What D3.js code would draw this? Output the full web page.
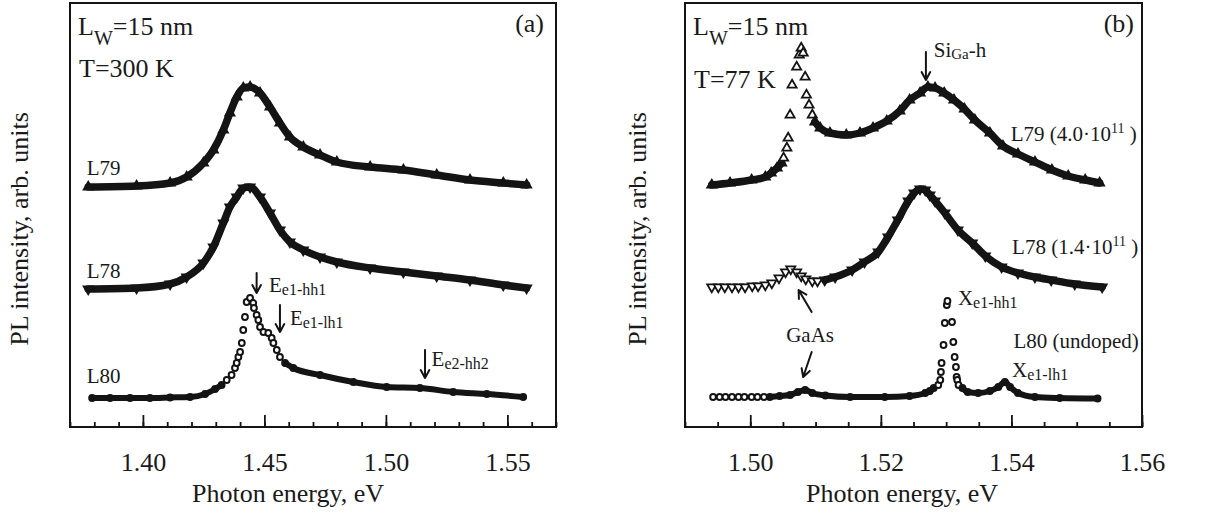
<!DOCTYPE html>
<html>
<head>
<meta charset="utf-8">
<script src="https://d3js.org/d3.v7.min.js"></script>
<style>
  body { margin: 0; background: #fff; }
  svg text { font-family: "Liberation Serif", "Times New Roman", serif; fill: #1a1a1a; }
</style>
</head>
<body>
<svg id="chart" width="1216" height="517"></svg>
<script>
// ---- data (energy in eV, PL intensity in arb. units incl. vertical offset) ----

// panel (a), T = 300 K
const energyA_L79 = [1.3775,1.3974,1.4112,1.4180,1.4249,1.4290,1.4331,1.4358,1.4386,1.4413,1.4441,1.4482,1.4523,1.4564,1.4605,1.4660,1.4729,1.4798,1.4935,1.5072,1.5209,1.5346,1.5483,1.5579];
const plA_L79     = [2.40,2.41,2.44,2.50,2.64,2.77,2.97,3.14,3.30,3.39,3.40,3.34,3.20,3.04,2.90,2.80,2.72,2.65,2.60,2.57,2.52,2.47,2.44,2.42];
const energyA_L78 = energyA_L79;
const plA_L78     = [1.38,1.39,1.43,1.50,1.64,1.80,2.04,2.20,2.30,2.39,2.40,2.30,2.14,1.97,1.85,1.77,1.70,1.65,1.59,1.55,1.51,1.47,1.42,1.39];
const energyA_L80 = [1.3791,1.3865,1.3947,1.4029,1.4112,1.4194,1.4256,1.4297,1.4324,1.4345,1.4365,1.4379,1.4386,1.4393,1.4400,1.4407,1.4413,1.4420,1.4427,1.4441,1.4454,1.4457,1.4468,1.4475,1.4482,1.4496,1.4516,1.4530,1.4537,1.4551,1.4564,1.4585,1.4619,1.4729,1.4866,1.5003,1.5140,1.5277,1.5415,1.5565];
const plA_L80     = [0.29,0.29,0.29,0.29,0.295,0.30,0.33,0.38,0.42,0.47,0.52,0.59,0.64,0.70,0.75,0.84,0.97,1.10,1.25,1.29,1.24,1.19,1.12,1.07,1.00,0.95,0.94,0.89,0.84,0.77,0.70,0.64,0.59,0.52,0.45,0.40,0.39,0.35,0.33,0.30];

// panel (b), T = 77 K
const energyB_L79 = [1.4941,1.4969,1.5002,1.5023,1.5032,1.5041,1.5048,1.5051,1.5056,1.5058,1.5061,1.5064,1.5071,1.5075,1.5078,1.5081,1.5084,1.5086,1.5090,1.5095,1.5099,1.5107,1.5122,1.5147,1.5168,1.5188,1.5209,1.5229,1.5244,1.5260,1.5272,1.5283,1.5297,1.5312,1.5328,1.5344,1.5367,1.5387,1.5410,1.5436,1.5462,1.5487,1.5513,1.5535];
const plB_L79     = [2.42,2.44,2.47,2.50,2.54,2.59,2.64,2.69,2.79,2.89,3.12,3.42,3.60,3.72,3.79,3.74,3.50,3.32,3.22,3.12,3.05,2.99,2.94,2.92,2.94,2.99,3.06,3.16,3.27,3.34,3.40,3.39,3.34,3.27,3.18,3.07,2.94,2.81,2.73,2.65,2.57,2.51,2.47,2.44];
const energyB_L78 = [1.4941,1.4951,1.4961,1.4972,1.4982,1.4992,1.5003,1.5012,1.5023,1.5033,1.5044,1.5054,1.5062,1.5071,1.5078,1.5085,1.5095,1.5103,1.5114,1.5130,1.5156,1.5175,1.5196,1.5211,1.5226,1.5242,1.5251,1.5260,1.5268,1.5275,1.5283,1.5298,1.5318,1.5340,1.5360,1.5385,1.5410,1.5436,1.5461,1.5497,1.5539];
const plB_L78     = [1.40,1.40,1.40,1.40,1.40,1.40,1.41,1.41,1.42,1.44,1.49,1.55,1.58,1.55,1.51,1.48,1.46,1.46,1.47,1.50,1.57,1.65,1.75,1.90,2.07,2.26,2.34,2.38,2.37,2.32,2.26,2.14,1.97,1.84,1.71,1.60,1.54,1.50,1.47,1.43,1.40];
const energyB_L80 = [1.4943,1.4953,1.4962,1.4972,1.4982,1.4991,1.5002,1.5011,1.5021,1.5030,1.5045,1.5061,1.5073,1.5084,1.5095,1.5115,1.5153,1.5206,1.5244,1.5268,1.5275,1.5281,1.5288,1.5291,1.5292,1.5293,1.5296,1.5298,1.5301,1.5302,1.5309,1.5311,1.5313,1.5315,1.5316,1.5317,1.5319,1.5325,1.5333,1.5349,1.5367,1.5380,1.5390,1.5398,1.5410,1.5436,1.5474,1.5532];
const plB_L80     = [0.30,0.30,0.30,0.30,0.30,0.30,0.30,0.30,0.30,0.30,0.31,0.32,0.35,0.37,0.34,0.315,0.30,0.30,0.31,0.34,0.36,0.39,0.42,0.47,0.55,0.64,0.82,1.04,1.22,1.26,1.05,0.85,0.70,0.60,0.50,0.47,0.42,0.39,0.35,0.34,0.36,0.40,0.45,0.40,0.34,0.30,0.29,0.285];

// tick labels
const ticksA = [1.40, 1.45, 1.50, 1.55];
const ticksB = [1.50, 1.52, 1.54, 1.56];

// ---- layout ----
const plotTop = 3, plotBottom = 427;
const INK = '#141414';
const BIG = 26, LABEL = 21;
const svg = d3.select('#chart');
const y = d3.scaleLinear().domain([0, 4.24]).range([plotBottom, plotTop]);

const panels = [
  {
    left: 70, right: 556, domain: [1.37, 1.57], ticks: ticksA, minorStep: 0.01,
    tag: '(a)', tagGap: 12, temp: 'T=300 K', tempY: 77, xLabelX: 288, yLabelX: 28,
    series: [
      { E: energyA_L79, I: plA_L79, marker: 'up',     bands: [[1.37, 1.57]] },
      { E: energyA_L78, I: plA_L78, marker: 'down',   bands: [[1.37, 1.57]] },
      { E: energyA_L80, I: plA_L80, marker: 'circle', bands: [[1.37, 1.4324], [1.4585, 1.57]] }
    ],
    labels: [
      { e: 1.3769, v: 2.52, parts: [{ t: 'L79' }] },
      { e: 1.3769, v: 1.49, parts: [{ t: 'L78' }] },
      { e: 1.3769, v: 0.44, parts: [{ t: 'L80' }] },
      { e: 1.4519, v: 1.35, parts: [{ t: 'E' }, { t: 'e1-hh1', sub: true }] },
      { e: 1.4605, v: 1.02, parts: [{ t: 'E' }, { t: 'e1-lh1', sub: true }] },
      { e: 1.5188, v: 0.61, parts: [{ t: 'E' }, { t: 'e2-hh2', sub: true }] }
    ],
    arrows: [
      { e0: 1.4468, v0: 1.54, e1: 1.4468, v1: 1.34 },
      { e0: 1.4564, v0: 1.22, e1: 1.4564, v1: 0.95 },
      { e0: 1.5161, v0: 0.77, e1: 1.5161, v1: 0.49 }
    ]
  },
  {
    left: 685, right: 1142, domain: [1.49, 1.56], ticks: ticksB, minorStep: 0.005,
    tag: '(b)', tagGap: 8, temp: 'T=77 K', tempY: 88, xLabelX: 902, yLabelX: 646,
    series: [
      { E: energyB_L79, I: plB_L79, marker: 'up',     bands: [[1.49, 1.5048], [1.5099, 1.56]] },
      { E: energyB_L78, I: plB_L78, marker: 'down',   bands: [[1.5114, 1.56]] },
      { E: energyB_L80, I: plB_L80, marker: 'circle', bands: [[1.5030, 1.5281], [1.5325, 1.56]] }
    ],
    labels: [
      { e: 1.5281, v: 3.70, parts: [{ t: 'Si' }, { t: 'Ga', sub: true, size: 15, dy: 2 }, { t: '-h' }] },
      { e: 1.5399, v: 2.86, parts: [{ t: 'L79  (4.0·10' }, { t: '11', sup: true }, { t: ' )' }] },
      { e: 1.5401, v: 1.73, parts: [{ t: 'L78  (1.4·10' }, { t: '11', sup: true }, { t: ' )' }] },
      { e: 1.5318, v: 1.22, parts: [{ t: 'X' }, { t: 'e1-hh1', sub: true }] },
      { e: 1.5055, v: 0.85, parts: [{ t: 'GaAs' }] },
      { e: 1.5403, v: 0.79, parts: [{ t: 'L80 (undoped)' }] },
      { e: 1.5401, v: 0.50, parts: [{ t: 'X' }, { t: 'e1-lh1', sub: true }] }
    ],
    arrows: [
      { e0: 1.5269, v0: 3.75, e1: 1.5269, v1: 3.47 },
      { e0: 1.5094, v0: 1.15, e1: 1.5074, v1: 1.37 },
      { e0: 1.5094, v0: 0.75, e1: 1.5081, v1: 0.50 }
    ]
  }
];

// rich text helper: base text with sub/superscript tspans
function richText(g, x0, y0, parts, size) {
  const t = g.append('text').attr('x', x0).attr('y', y0).attr('font-size', size);
  let shift = 0;
  parts.forEach(p => {
    let target = 0, fs = size;
    if (p.sub) { target = p.dy != null ? p.dy : 3; fs = p.size || Math.round(size * 0.78); }
    if (p.sup) { target = -8; fs = Math.round(size * 0.65); }
    t.append('tspan').attr('dy', target - shift).attr('font-size', fs).text(p.t);
    shift = target;
  });
  return t;
}

const inBands = (e, bands) => bands.some(([e0, e1]) => e >= e0 - 1e-9 && e <= e1 + 1e-9);

panels.forEach(p => {
  const x = d3.scaleLinear().domain(p.domain).range([p.left, p.right]);
  const g = svg.append('g');

  // curves: thick band where the measured points overlap, open markers where they stand apart
  p.series.forEach(s => {
    const pts = s.E.map((e, i) => ({ e: e, v: s.I[i], dense: inBands(e, s.bands) }));
    const line = d3.line().x(d => x(d.e)).y(d => y(d.v)).curve(d3.curveMonotoneX);
    s.bands.forEach(([e0, e1]) => {
      const seg = pts.filter(d => d.e >= e0 - 1e-9 && d.e <= e1 + 1e-9);
      if (seg.length < 2) return;
      g.append('path').attr('d', line(seg))
        .attr('fill', 'none').attr('stroke', INK)
        .attr('stroke-width', s.marker === 'circle' ? 6 : 7.5)
        .attr('stroke-linejoin', 'round').attr('stroke-linecap', 'round');
    });
    const markers = g.append('g');
    if (s.marker === 'circle') {
      markers.selectAll('circle').data(pts).join('circle')
        .attr('cx', d => x(d.e)).attr('cy', d => y(d.v)).attr('r', 2.9)
        .attr('fill', d => d.dense ? INK : '#fff').attr('stroke', INK).attr('stroke-width', 2);
    } else {
      const sym = d3.symbol().type(d3.symbolTriangle).size(36);
      markers.selectAll('path').data(pts).join('path')
        .attr('d', sym)
        .attr('transform', d => `translate(${x(d.e)},${y(d.v)})` + (s.marker === 'down' ? ' rotate(180)' : ''))
        .attr('fill', d => d.dense ? INK : '#fff').attr('stroke', INK).attr('stroke-width', 1.8);
    }
  });

  // frame
  g.append('rect')
    .attr('x', p.left).attr('y', plotTop)
    .attr('width', p.right - p.left).attr('height', plotBottom - plotTop)
    .attr('fill', 'none').attr('stroke', INK).attr('stroke-width', 2);

  // minor ticks (inward)
  const minor = d3.range(p.domain[0], p.domain[1] + 1e-9, p.minorStep);
  const minorAxis = g.append('g').attr('transform', `translate(0,${plotBottom})`)
    .call(d3.axisBottom(x).tickValues(minor).tickSizeInner(-5).tickSizeOuter(0).tickFormat(''));
  minorAxis.select('.domain').remove();

  // major ticks + labels
  const majorAxis = g.append('g').attr('transform', `translate(0,${plotBottom})`)
    .call(d3.axisBottom(x).tickValues(p.ticks).tickSizeInner(-12).tickSizeOuter(0)
      .tickPadding(26).tickFormat(d3.format('.2f')));
  majorAxis.select('.domain').remove();
  majorAxis.attr('font-family', null).attr('font-size', BIG);
  [minorAxis, majorAxis].forEach(a => a.selectAll('line').attr('stroke', INK).attr('stroke-width', 1.8));

  // axis titles
  g.append('text').attr('x', p.xLabelX).attr('y', 502)
    .attr('text-anchor', 'middle').attr('font-size', BIG).text('Photon energy, eV');
  g.append('text').attr('transform', `translate(${p.yLabelX},229) rotate(-90)`)
    .attr('text-anchor', 'middle').attr('font-size', BIG).text('PL intensity, arb. units');

  // header texts
  richText(g, p.left + 8, 35, [{ t: 'L' }, { t: 'W', sub: true, size: 20, dy: 10 }, { t: '=15 nm' }], BIG);
  g.append('text').attr('x', p.left + 9).attr('y', p.tempY).attr('font-size', BIG).text(p.temp);
  g.append('text').attr('x', p.right - p.tagGap).attr('y', 32).attr('text-anchor', 'end')
    .attr('font-size', BIG).text(p.tag);

  // annotations
  p.labels.forEach(l => richText(g, x(l.e), y(l.v), l.parts, LABEL));
  p.arrows.forEach(a => {
    const x0 = x(a.e0), y0 = y(a.v0), x1 = x(a.e1), y1 = y(a.v1);
    const ang = Math.atan2(y1 - y0, x1 - x0);
    const hl = 9, hw = 0.5;
    const h1 = [x1 - hl * Math.cos(ang - hw), y1 - hl * Math.sin(ang - hw)];
    const h2 = [x1 - hl * Math.cos(ang + hw), y1 - hl * Math.sin(ang + hw)];
    g.append('path')
      .attr('d', `M${x0},${y0}L${x1},${y1}M${h1[0]},${h1[1]}L${x1},${y1}L${h2[0]},${h2[1]}`)
      .attr('fill', 'none').attr('stroke', INK).attr('stroke-width', 2)
      .attr('stroke-linecap', 'round').attr('stroke-linejoin', 'round');
  });
});
</script>
</body>
</html>
